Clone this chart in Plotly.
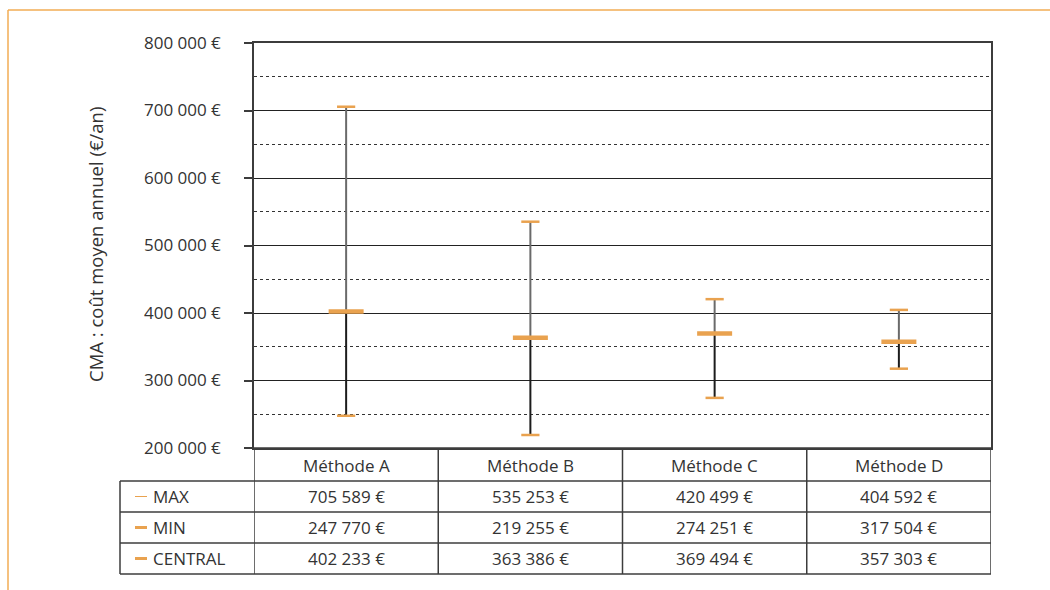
import plotly.graph_objects as go

methods = ["Méthode A", "Méthode B", "Méthode C", "Méthode D"]
max_vals = [705589, 535253, 420499, 404592]
min_vals = [247770, 219255, 274251, 317504]
central_vals = [402233, 363386, 369494, 357303]
row_labels = ["MAX", "MIN", "CENTRAL"]
y_title = "CMA : coût moyen annuel (€/an)"

ORANGE = "#E9A24F"
FRAME = "#F2AC55"
LINE = "#3c3c3c"
TXT = "#333333"
FONT = "Open Sans, Lato, sans-serif"
FS = 17

# pixel layout helpers (plot area 254..991 x 43..448)
L, R, T, B = 254, 991, 43, 448
def px(p):
    return (p - L) / (R - L)
def py(p):
    return (B - p) / (B - T)

fig = go.Figure()

xu, yu, xl, yl = [], [], [], []
for m, hi, lo, c in zip(methods, max_vals, min_vals, central_vals):
    xu += [m, m, None]; yu += [hi, c, None]
    xl += [m, m, None]; yl += [c, lo, None]
fig.add_trace(go.Scatter(x=xu, y=yu, mode="lines", line=dict(color="#6a6a6a", width=2),
                         hoverinfo="skip", showlegend=False))
fig.add_trace(go.Scatter(x=xl, y=yl, mode="lines", line=dict(color="#1c1c1c", width=2),
                         hoverinfo="skip", showlegend=False))
fig.add_trace(go.Scatter(x=methods, y=max_vals, mode="markers", name="MAX",
                         marker=dict(symbol="line-ew", size=13, line=dict(color=ORANGE, width=2.5)),
                         showlegend=False))
fig.add_trace(go.Scatter(x=methods, y=min_vals, mode="markers", name="MIN",
                         marker=dict(symbol="line-ew", size=13, line=dict(color=ORANGE, width=2.5)),
                         showlegend=False))
fig.add_trace(go.Scatter(x=methods, y=central_vals, mode="markers", name="CENTRAL",
                         marker=dict(symbol="line-ew", size=25, line=dict(color=ORANGE, width=4.5)),
                         showlegend=False))

shapes = []
annotations = []

# orange frame
shapes.append(dict(type="line", xref="paper", yref="paper", x0=px(8), x1=px(1052), y0=py(10), y1=py(10),
                   line=dict(color=FRAME, width=1.5), layer="above"))
shapes.append(dict(type="line", xref="paper", yref="paper", x0=px(8), x1=px(8), y0=py(10), y1=py(592),
                   line=dict(color=FRAME, width=1.5), layer="above"))

# table
row_y = [448, 481, 512, 543, 574]
shapes.append(dict(type="line", xref="paper", yref="paper", x0=px(L), x1=px(R), y0=py(448), y1=py(448),
                   line=dict(color=LINE, width=1.5)))
for yy in row_y[1:]:
    shapes.append(dict(type="line", xref="paper", yref="paper", x0=px(120), x1=px(R), y0=py(yy), y1=py(yy),
                       line=dict(color=LINE, width=1.5)))
shapes.append(dict(type="line", xref="paper", yref="paper", x0=px(120), x1=px(120), y0=py(481), y1=py(574),
                   line=dict(color=LINE, width=1.5)))
for i in range(len(methods) + 1):
    shapes.append(dict(type="line", xref="x", yref="paper", x0=i - 0.5, x1=i - 0.5, y0=py(448), y1=py(574),
                       line=dict(color=LINE, width=1.5)))

for m in methods:
    annotations.append(dict(x=m, xref="x", y=py(465), yref="paper", text=m, showarrow=False,
                            xanchor="center", yanchor="middle",
                            font=dict(family=FONT, size=FS, color=TXT)))
rows = [max_vals, min_vals, central_vals]
widths = [1, 3, 3]
for r, (lab, vals, w) in enumerate(zip(row_labels, rows, widths)):
    cy = (row_y[r + 1] + row_y[r + 2]) / 2
    shapes.append(dict(type="line", xref="paper", yref="paper", x0=px(135), x1=px(147), y0=py(cy), y1=py(cy),
                       line=dict(color=ORANGE, width=w)))
    annotations.append(dict(x=px(151), xref="paper", y=py(cy), yref="paper", text=lab, showarrow=False,
                            xanchor="left", yanchor="middle",
                            font=dict(family=FONT, size=FS, color=TXT)))
    for m, v in zip(methods, vals):
        annotations.append(dict(x=m, xref="x", y=py(cy), yref="paper",
                                text=f"{v:,}".replace(",", " ") + " €", showarrow=False,
                                xanchor="center", yanchor="middle",
                                font=dict(family=FONT, size=FS, color=TXT)))

annotations.append(dict(x=px(95), xref="paper", y=py(245), yref="paper", text=y_title, textangle=-90,
                        xanchor="center", yanchor="middle",
                        showarrow=False, font=dict(family=FONT, size=18.5, color=TXT)))

fig.update_layout(
    width=1050, height=590,
    margin=dict(l=L, r=1050 - R, t=T, b=590 - B),
    paper_bgcolor="white", plot_bgcolor="white",
    separators=", ",
    font=dict(family=FONT, size=FS, color=TXT),
    shapes=shapes, annotations=annotations,
    showlegend=False,
)
fig.update_xaxes(type="category", range=[-0.5, 3.5], showticklabels=False, showgrid=False,
                 showline=True, linecolor=LINE, linewidth=1.5, mirror=True, ticks="", zeroline=False)
fig.update_yaxes(range=[200000, 800000], dtick=100000, tickformat=",d", ticksuffix=" €",
                 showline=True, linecolor=LINE, linewidth=1.5, mirror=True,
                 ticks="outside", ticklen=8, tickcolor=LINE, tickwidth=1.5,
                 ticklabelstandoff=20,
                 showgrid=True, gridcolor="#222222", gridwidth=1, zeroline=False,
                 minor=dict(dtick=50000, showgrid=True, griddash="dot", gridcolor="#333333", gridwidth=1,
                            ticks=""),
                 tickfont=dict(family=FONT, size=FS, color=TXT))

fig.write_html("out.html", config={"displayModeBar": False},
               post_script="document.body.style.margin='0px';document.body.style.overflow='hidden';")
